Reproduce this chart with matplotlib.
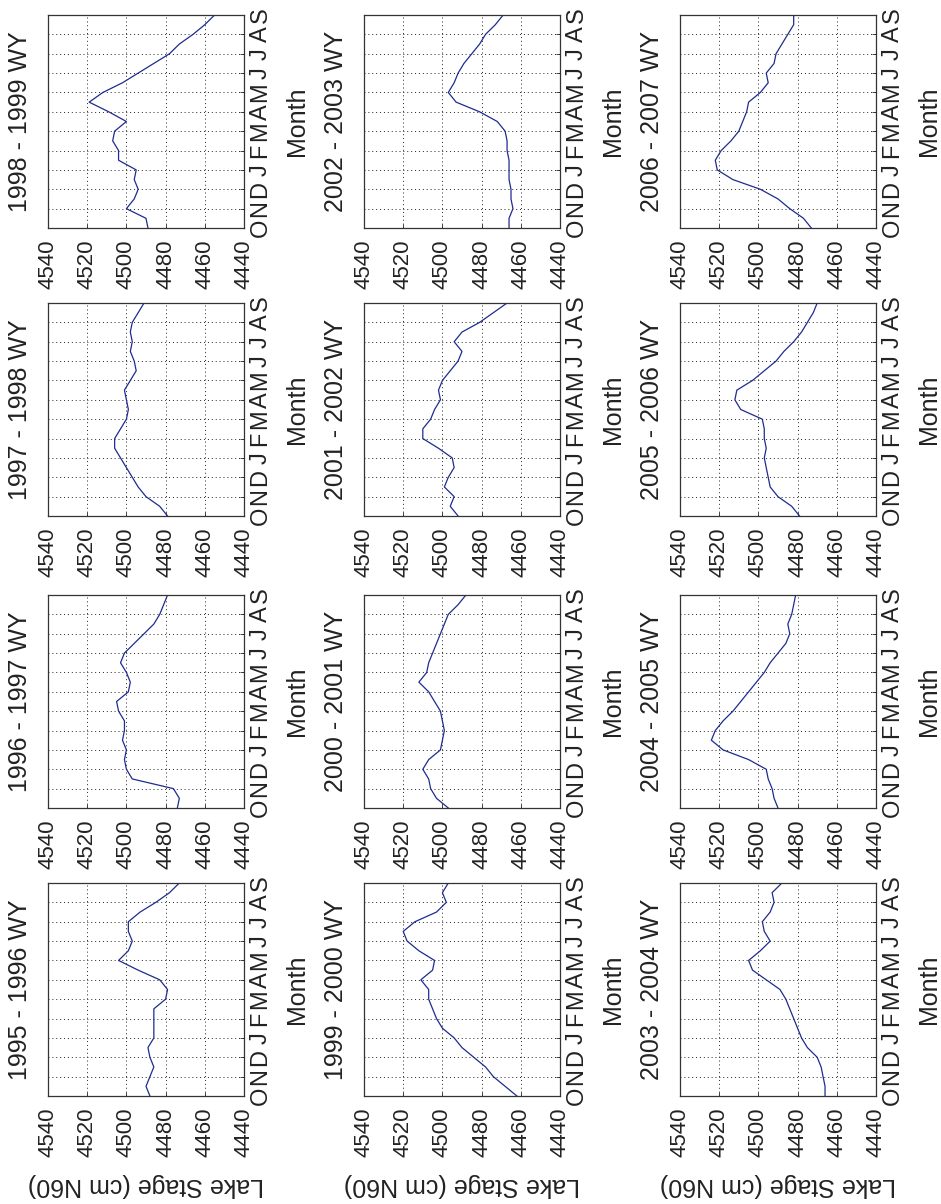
import matplotlib
matplotlib.use("Agg")
import matplotlib.pyplot as plt

plt.rcParams['font.family'] = ['Liberation Sans', 'DejaVu Sans']

# time grid in months since 1 October (0 = Oct ... 11 = Sep)
months_t = [0, 0.5, 1, 1.5, 2, 2.5, 3, 3.5, 4, 4.5, 5, 5.5, 6, 6.5, 7, 7.5,
            8, 8.5, 9, 9.5, 10, 10.5, 11]
month_labels = ['O', 'N', 'D', 'J', 'F', 'M', 'A', 'M', 'J', 'J', 'A', 'S']
stage_ticks = [4540, 4520, 4500, 4480, 4460, 4440]

# lake stage (cm N60)
stage_1995_1996 = [4488, 4490, 4488, 4486, 4488, 4489, 4486, 4486, 4486, 4486, 4480, 4479,
                   4483, 4494, 4504, 4499, 4497, 4499, 4499, 4493, 4485, 4478, 4473]
stage_1996_1997 = [4474, 4473, 4476, 4497, 4500, 4501, 4500, 4502, 4501, 4501, 4504, 4505,
                   4499, 4498, 4500, 4503, 4501, 4496, 4491, 4486, 4483, 4481, 4479]
stage_1997_1998 = [4479, 4483, 4490, 4494, 4497, 4500, 4503, 4506, 4506, 4503, 4500, 4499,
                   4500, 4501, 4498, 4495, 4496, 4498, 4497, 4498, 4497, 4494, 4491]
stage_1998_1999 = [4489, 4490, 4500, 4496, 4494, 4496, 4495, 4504, 4504, 4507, 4506, 4500,
                   4509, 4519, 4512, 4502, 4494, 4486, 4478, 4473, 4466, 4460, 4455]
stage_1999_2000 = [4462, 4468, 4474, 4478, 4484, 4490, 4494, 4500, 4503, 4505, 4507, 4507,
                   4511, 4505, 4504, 4512, 4518, 4520, 4514, 4503, 4498, 4500, 4497]
stage_2000_2001 = [4497, 4503, 4506, 4507, 4510, 4507, 4501, 4500, 4499, 4500, 4501, 4504,
                   4507, 4512, 4508, 4507, 4505, 4503, 4501, 4499, 4497, 4492, 4488]
stage_2001_2002 = [4492, 4496, 4494, 4499, 4497, 4494, 4495, 4502, 4510, 4510, 4506, 4504,
                   4501, 4502, 4500, 4496, 4492, 4490, 4494, 4490, 4481, 4474, 4467]
stage_2002_2003 = [4466, 4466, 4464, 4465, 4465, 4466, 4466, 4466, 4467, 4467, 4468, 4472,
                   4481, 4493, 4497, 4494, 4492, 4489, 4485, 4481, 4478, 4473, 4469]
stage_2003_2004 = [4466, 4466, 4467, 4468, 4470, 4475, 4478, 4480, 4482, 4484, 4486, 4489,
                   4496, 4503, 4505, 4499, 4494, 4497, 4498, 4494, 4492, 4493, 4488]
stage_2004_2005 = [4490, 4492, 4493, 4495, 4496, 4505, 4518, 4524, 4522, 4518, 4513, 4509,
                   4505, 4501, 4497, 4494, 4490, 4486, 4484, 4485, 4483, 4482, 4481]
stage_2005_2006 = [4479, 4483, 4490, 4494, 4495, 4496, 4497, 4496, 4497, 4497, 4498, 4509,
                   4512, 4511, 4503, 4497, 4491, 4487, 4482, 4478, 4475, 4472, 4470]
stage_2006_2007 = [4473, 4477, 4484, 4490, 4499, 4513, 4521, 4522, 4519, 4514, 4510, 4508,
                   4506, 4505, 4499, 4495, 4496, 4492, 4491, 4488, 4485, 4482, 4482]

# panel grid: columns of the (rotated) page, each listed top to bottom
panels = [
    [("1998 - 1999 WY", stage_1998_1999), ("1997 - 1998 WY", stage_1997_1998),
     ("1996 - 1997 WY", stage_1996_1997), ("1995 - 1996 WY", stage_1995_1996)],
    [("2002 - 2003 WY", stage_2002_2003), ("2001 - 2002 WY", stage_2001_2002),
     ("2000 - 2001 WY", stage_2000_2001), ("1999 - 2000 WY", stage_1999_2000)],
    [("2006 - 2007 WY", stage_2006_2007), ("2005 - 2006 WY", stage_2005_2006),
     ("2004 - 2005 WY", stage_2004_2005), ("2003 - 2004 WY", stage_2003_2004)],
]

W, H = 941, 1204
fig = plt.figure(figsize=(W / 100, H / 100), dpi=100)
fig.patch.set_facecolor('white')

col_lefts = [48, 364, 680]
col_w = 196
row_tops = [15, 303, 595, 883]
row_h = 213

line_color = '#1f2b8f'
tick_fs = 16
title_fs = 18

for ci, col in enumerate(panels):
    for ri, (title, stage) in enumerate(col):
        l = col_lefts[ci]
        t = row_tops[ri]
        ax = fig.add_axes([l / W, 1 - (t + row_h) / H, col_w / W, row_h / H])
        ax.plot(stage, months_t, color=line_color, lw=0.9)
        ax.set_xlim(4540, 4440)
        ax.set_ylim(0, 11)
        ax.set_xticks(stage_ticks)
        ax.set_xticklabels([str(v) for v in stage_ticks])
        ax.set_yticks(range(12))
        ax.set_yticklabels(month_labels)
        ax.yaxis.tick_right()
        ax.tick_params(axis='both', direction='in', length=3, width=0.6,
                       labelsize=tick_fs, colors='#222222')
        ax.tick_params(axis='x', labelrotation=90, pad=8)
        ax.tick_params(axis='y', labelrotation=90, pad=4, labelsize=17)
        for lab in ax.get_yticklabels():
            lab.set_va('center')
            lab.set_ha('left')
        ax.grid(True, linestyle=(0, (1, 3)), color='#222222', lw=0.7)
        for sp in ax.spines.values():
            sp.set_color('#333333')
            sp.set_linewidth(0.9)
        # title on the left (page rotated)
        ax.text(-28 / col_w, 0.5, title, transform=ax.transAxes, rotation=90,
                ha='center', va='center', fontsize=title_fs, color='#222222')
        # Month label on the right
        ax.text(1 + 53 / col_w, 0.5, 'Month', transform=ax.transAxes, rotation=90,
                ha='center', va='center', fontsize=title_fs, color='#222222')
        if ri == 3:
            ax.text(0.5, -89 / row_h, 'Lake Stage (cm N60)', transform=ax.transAxes,
                    rotation=180, ha='center', va='center', fontsize=title_fs,
                    color='#222222')

fig.savefig('out.png', dpi=100, facecolor='white')
